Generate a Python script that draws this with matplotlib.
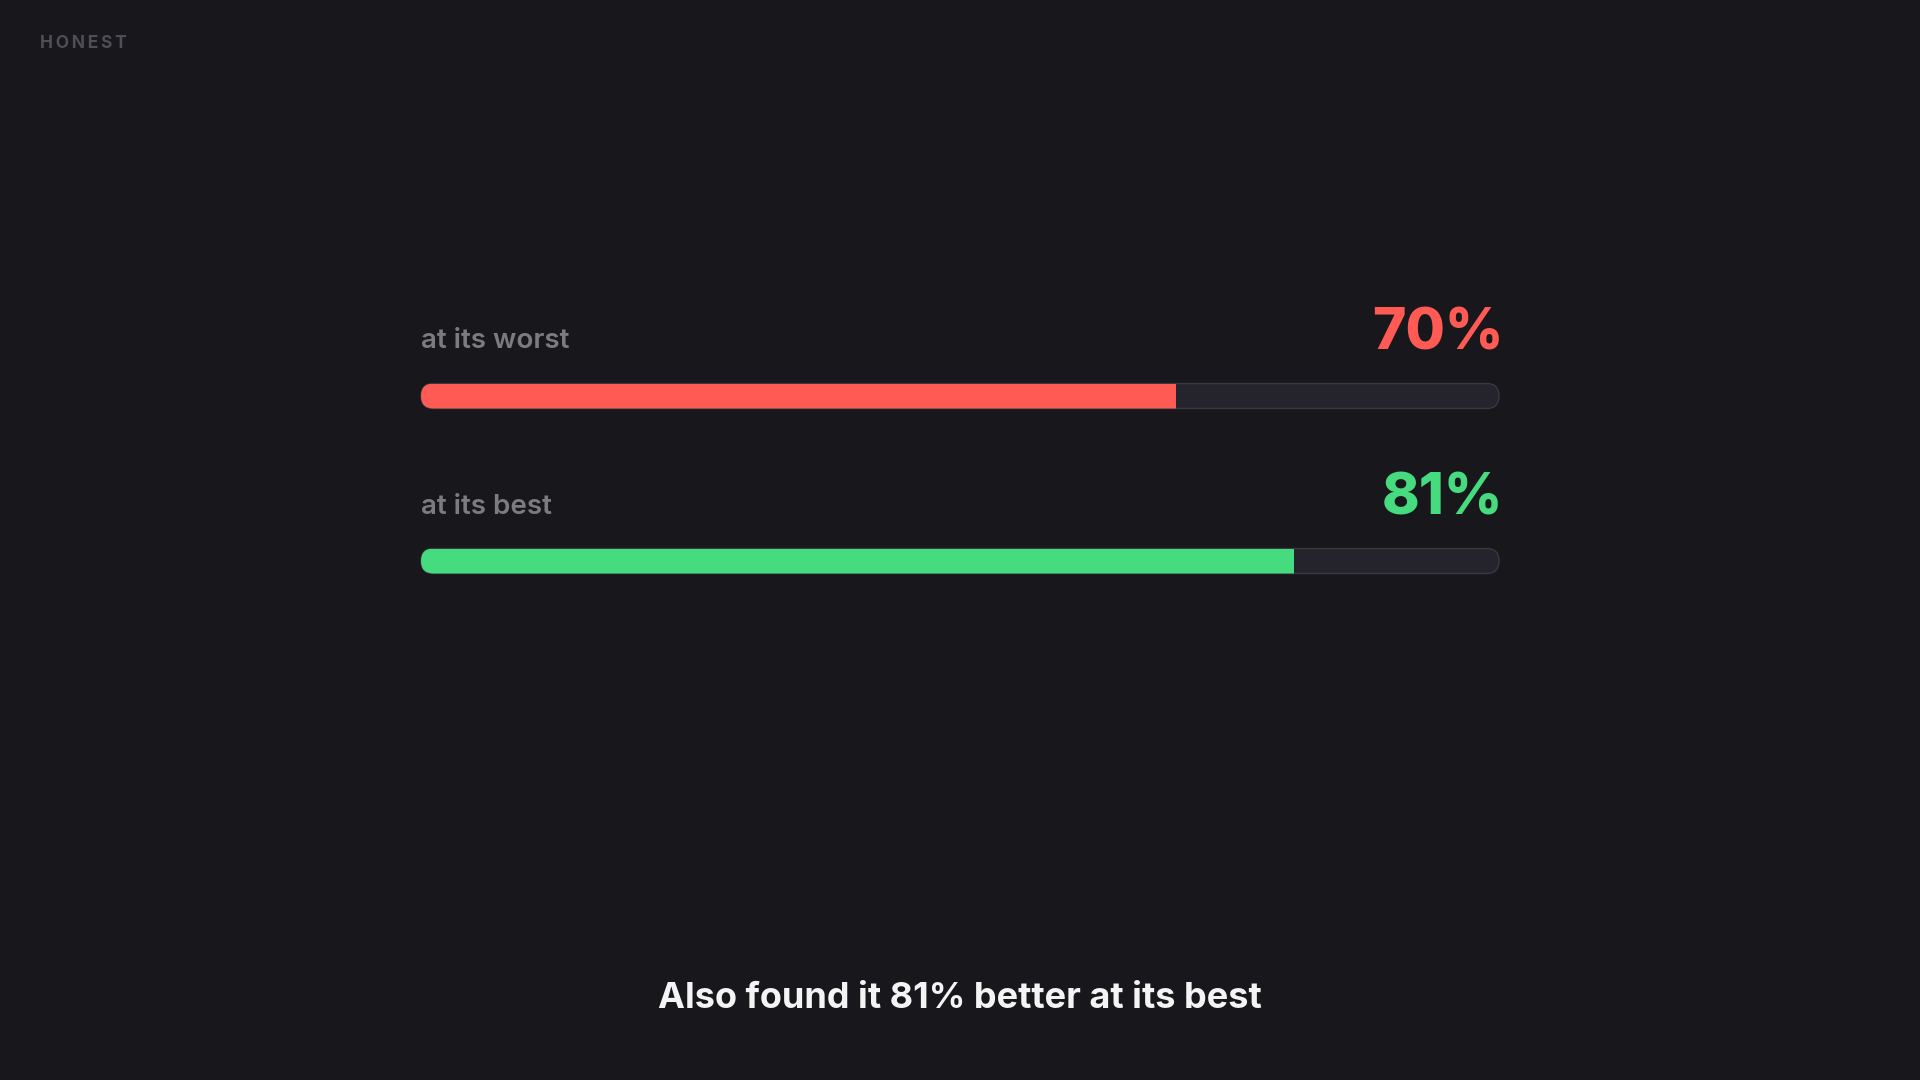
import matplotlib
matplotlib.use("Agg")
from matplotlib import pyplot as plt
from matplotlib.patches import FancyBboxPatch

# data
labels = ["at its worst", "at its best"]
values = [70, 81]
colors = ["#ff5a54", "#45db7e"]
brand = "HONEST"
caption = "Also found it 81% better at its best"

BG = "#18171c"
TRACK = "#25242c"
TRACK_EDGE = "#3a3942"
LABEL_GRAY = "#7c7b80"

W, H = 1920, 1080
fig = plt.figure(figsize=(19.2, 10.8), dpi=100, facecolor=BG)
plt.rcParams["font.family"] = ["Inter", "DejaVu Sans"]

# bar geometry in pixels
x0, x1 = 421, 1499
bar_h = 25
bar_tops = [383.5, 548.5]

for lab, val, col, top in zip(labels, values, colors, bar_tops):
    ax = fig.add_axes([x0 / W, 1 - (top + bar_h) / H, (x1 - x0) / W, bar_h / H])
    ax.set_xlim(0, 100)
    ax.set_ylim(0, 1)
    ax.axis("off")
    ax.set_facecolor("none")

    r = 100 * (bar_h / 2) / (x1 - x0)
    asp = 0.5 / r
    track = FancyBboxPatch((0, 0), 100, 1,
                           boxstyle="round,pad=0,rounding_size=%f" % r,
                           mutation_aspect=asp, facecolor=TRACK,
                           edgecolor=TRACK_EDGE, linewidth=1.0, clip_on=False)
    ax.add_patch(track)
    bars = ax.barh([0.5], [val], height=1.0, left=0, color=col, linewidth=0)
    for b in bars:
        b.set_clip_path(track)

    fig.text(x0 / W, 1 - (top - 35) / H, lab, color=LABEL_GRAY, fontsize=20,
             fontweight="semibold", ha="left", va="baseline")
    fig.text((x1 + 4) / W, 1 - (top - 34) / H, "%d%%" % val, color=col, fontsize=41,
             fontweight="heavy", ha="right", va="baseline")

fig.text(40 / W, 1 - 48 / H, "\u2009".join(brand), color="#4e4e54",
         fontsize=12.5, fontweight="bold", ha="left", va="baseline")

fig.text(0.5, 1 - 1008 / H, caption, color="#f4f4f4", fontsize=26,
         fontweight="bold", ha="center", va="baseline")

fig.savefig("out.png", dpi=100, facecolor=BG)
